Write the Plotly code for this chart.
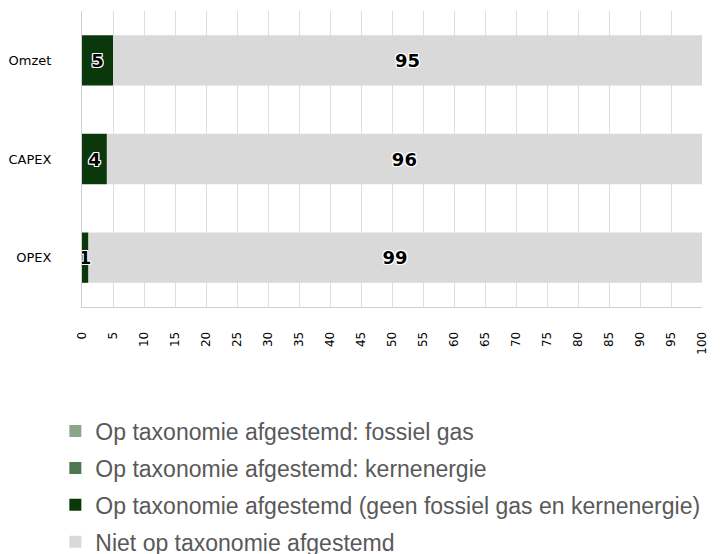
import plotly.graph_objects as go

categories = ["Omzet", "CAPEX", "OPEX"]
fossil_gas = [0, 0, 0]
kernenergie = [0, 0, 0]
aligned_other = [5, 4, 1]
not_aligned = [95, 96, 99]
x_ticks = list(range(0, 101, 5))

series_names = [
    "Op taxonomie afgestemd: fossiel gas",
    "Op taxonomie afgestemd: kernenergie",
    "Op taxonomie afgestemd (geen fossiel gas en kernenergie)",
    "Niet op taxonomie afgestemd",
]
series_values = [fossil_gas, kernenergie, aligned_other, not_aligned]
series_colors = ["#8aa68a", "#4e774f", "#0a380a", "#d9d9d9"]

outline = ("1px 1px 0 #fff, -1px -1px 0 #fff, 1px -1px 0 #fff, -1px 1px 0 #fff, "
           "0 1px 0 #fff, 0 -1px 0 #fff, 1px 0 0 #fff, -1px 0 0 #fff")

# cumulative bases for the stack (computed from the data series)
bases = []
running = [0] * len(categories)
for vals in series_values:
    bases.append(list(running))
    running = [r + v for r, v in zip(running, vals)]

# draw the last (grey) series first so that labels of the thin dark bars sit on top
draw_order = [3, 0, 1, 2]

fig = go.Figure()
for i in draw_order:
    name, vals, col = series_names[i], series_values[i], series_colors[i]
    labels = [str(v) if v > 0 else "" for v in vals]
    fig.add_trace(go.Bar(
        y=categories, x=vals, base=bases[i], name=name, orientation="h",
        marker=dict(color=col, line=dict(width=0)),
        text=labels, textposition="inside", insidetextanchor="middle",
        constraintext="none",
        textfont=dict(family="DejaVu Sans", size=18, color="#000000",
                      weight="bold", shadow=outline),
        legendgroup=f"g{i}", legendrank=i + 1,
        hoverinfo="x+name",
    ))

# page body has an 8px margin, so the figure is 8px smaller and shifted accordingly
fig.update_layout(
    width=716, height=546,
    barmode="overlay", bargap=0.49,
    paper_bgcolor="white", plot_bgcolor="white",
    margin=dict(l=74, r=22, t=3, b=247, autoexpand=False),
    font=dict(family="DejaVu Sans", size=13, color="#000000"),
    showlegend=True,
    legend=dict(
        orientation="v", traceorder="grouped",
        x=-0.043, xanchor="left", y=-0.3465, yanchor="top",
        font=dict(family="Liberation Sans", size=23, color="#595959"),
        tracegroupgap=4,
        bgcolor="rgba(0,0,0,0)",
    ),
    xaxis=dict(
        range=[0, 100], tickvals=x_ticks, ticktext=[str(t) for t in x_ticks],
        tickangle=-90, tickfont=dict(family="DejaVu Sans", size=12, color="#000000"),
        showgrid=True, gridcolor="#dedede", gridwidth=1,
        showline=True, linecolor="#d0d0d0", linewidth=1,
        ticks="", ticklabelstandoff=19, zeroline=False, automargin=False,
    ),
    yaxis=dict(
        categoryorder="array", categoryarray=categories[::-1],
        tickfont=dict(family="DejaVu Sans", size=13, color="#000000"),
        showgrid=False, showline=True, linecolor="#d0d0d0", linewidth=1,
        ticks="", ticklabelstandoff=27, automargin=False,
    ),
)

fig.write_html("out.html")
